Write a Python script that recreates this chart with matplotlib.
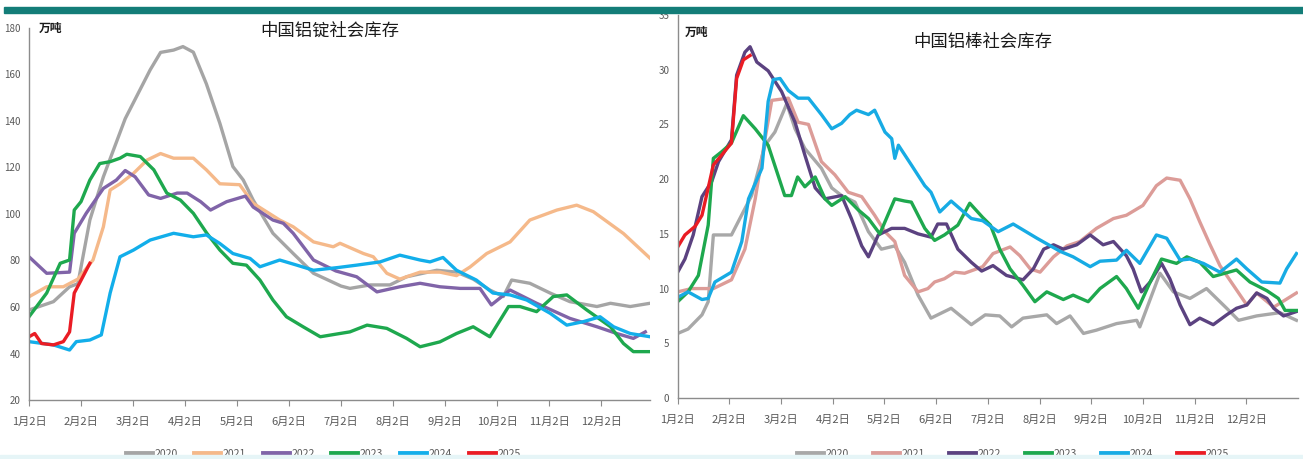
import matplotlib
matplotlib.use("Agg")
import matplotlib.pyplot as plt
from matplotlib.patches import Rectangle

plt.rcParams['font.family'] = ['Noto Sans CJK SC', 'DejaVu Sans']

month_labels = ["1月2日", "2月2日", "3月2日", "4月2日", "5月2日", "6月2日",
                "7月2日", "8月2日", "9月2日", "10月2日", "11月2日", "12月2日"]
years = ["2020", "2021", "2022", "2023", "2024", "2025"]

# x positions are in months after 1月2日
# ---- 中国铝锭社会库存 (万吨) ----
ingot_2020_m = [0, 0.47, 0.78, 0.94, 1.17, 1.43, 1.85, 2.33, 2.53, 2.78, 2.96, 3.16, 3.41, 3.67, 3.92,
                4.12, 4.31, 4.69, 5.08, 5.47, 6.0, 6.17, 6.56, 6.94, 7.26, 7.84, 8.22, 8.54, 8.86, 9.12,
                9.28, 9.63, 10.02, 10.4, 10.92, 11.18, 11.56, 11.94]
ingot_2020_v = [58.7, 62.3, 68.7, 70, 97.4, 116, 141, 162, 169.5, 170.5, 172, 169.6, 156, 139, 120.4,
                114.6, 106, 91.7, 83, 74.5, 69, 68, 69.5, 69.5, 73, 75.8, 75, 72, 67.3, 64.5,
                71.6, 70.2, 66, 62.3, 60.2, 61.6, 60.2, 61.6]
ingot_2021_m = [0, 0.34, 0.66, 0.94, 1.23, 1.43, 1.56, 1.75, 2.01, 2.27, 2.53, 2.78, 3.16, 3.41, 3.67,
                4.05, 4.31, 4.82, 5.08, 5.47, 5.85, 5.98, 6.43, 6.62, 6.88, 7.13, 7.52, 7.9, 8.22, 8.48,
                8.8, 9.25, 9.63, 10.15, 10.53, 10.85, 11.43, 11.94]
ingot_2021_v = [64.4, 68.7, 68.7, 72, 80.2, 94.5, 110.3, 113, 117.5, 123.2, 126, 124, 124, 119, 113,
                112.6, 104.6, 97.4, 94.5, 88, 85.9, 87.4, 83, 81.6, 74.5, 72, 75, 75, 73.5, 77.2,
                83, 88, 97.4, 101.7, 103.8, 101, 91.6, 81]
ingot_2022_m = [0, 0.34, 0.78, 0.87, 1.1, 1.43, 1.68, 1.85, 2.04, 2.3, 2.53, 2.85, 3.04, 3.3, 3.49,
                3.8, 4.16, 4.31, 4.69, 4.89, 5.08, 5.47, 5.9, 6.3, 6.69, 7.13, 7.52, 7.9, 8.29, 8.67,
                8.89, 9.25, 9.76, 10.4, 10.92, 11.3, 11.62, 11.85]
ingot_2022_v = [81.6, 74.5, 75, 91.7, 100.3, 111, 114.6, 118.7, 116, 108.2, 106.7, 109, 109, 105.3, 101.7,
                105.3, 107.7, 103, 97.4, 96, 91.7, 80.2, 75.5, 73, 66.5, 68.7, 70.2, 68.7, 68, 68,
                60.9, 67.3, 61.6, 55.1, 51.5, 48.6, 46.5, 49.3]
ingot_2023_m = [0, 0.34, 0.6, 0.78, 0.87, 1.0, 1.17, 1.36, 1.56, 1.75, 1.88, 2.14, 2.4, 2.65, 2.91,
                3.16, 3.42, 3.67, 3.92, 4.18, 4.44, 4.69, 4.95, 5.27, 5.6, 5.95, 6.17, 6.5, 6.88, 7.26,
                7.52, 7.9, 8.22, 8.54, 8.86, 9.22, 9.44, 9.76, 10.08, 10.34, 10.72, 11.18, 11.43, 11.62, 11.94]
ingot_2023_v = [55.8, 66, 78.8, 80.2, 101.7, 105.3, 114.6, 121.7, 122.5, 124, 125.7, 124.7, 119, 109, 106,
                100.3, 91.7, 84.5, 78.8, 78, 71.6, 63, 55.8, 51.5, 47.2, 48.5, 49.3, 52.2, 50.8, 46.5,
                42.9, 45, 48.6, 51.5, 47.2, 60.2, 60.2, 58, 64.5, 65.2, 58.8, 51.5, 44.3, 40.8, 40.8]
ingot_2024_m = [0, 0.47, 0.78, 0.91, 1.17, 1.39, 1.56, 1.75, 2.01, 2.33, 2.78, 3.16, 3.41, 3.67, 3.92,
                4.25, 4.44, 4.82, 5.15, 5.47, 5.95, 6.3, 6.75, 7.13, 7.52, 7.71, 7.96, 8.22, 8.6, 8.92,
                9.25, 9.57, 10.02, 10.34, 10.66, 10.98, 11.24, 11.56, 11.94]
ingot_2024_v = [45.1, 43.7, 41.5, 45.1, 45.8, 48, 66, 81.6, 84.5, 88.8, 91.7, 90.2, 91, 87.3, 83,
                80.9, 77.3, 80.2, 78, 75.8, 77, 78, 79.4, 82.3, 80.2, 79.4, 81.3, 75.8, 71.6, 66,
                65.2, 63, 57.3, 52.2, 53.7, 55.8, 51.5, 48.6, 47.2]
ingot_2025_m = [0, 0.11, 0.24, 0.47, 0.66, 0.78, 0.87, 0.97, 1.17]
ingot_2025_v = [47.2, 48.6, 44.3, 43.7, 45.1, 49.3, 66, 70.2, 78.8]

# ---- 中国铝棒社会库存 (万吨) ----
rod_2020_m = [0, 0.2, 0.47, 0.59, 0.69, 1.04, 1.17, 1.43, 1.69, 1.88, 2.11, 2.27, 2.46, 2.78, 2.98,
              3.17, 3.43, 3.69, 3.94, 4.2, 4.39, 4.65, 4.9, 5.29, 5.68, 5.95, 6.23, 6.46, 6.68, 7.14,
              7.33, 7.59, 7.85, 8.1, 8.49, 8.88, 8.94, 9.33, 9.59, 9.91, 10.23, 10.62, 10.85, 11.2,
              11.65, 11.97]
rod_2020_v = [5.9, 6.3, 7.6, 8.8, 14.9, 14.9, 16.1, 18.5, 23.1, 24.3, 26.9, 24.6, 22.8, 21, 19.2,
              18.5, 17.9, 15.2, 13.6, 13.9, 12.4, 9.4, 7.3, 8.2, 6.7, 7.6, 7.5, 6.5, 7.3, 7.6,
              6.8, 7.5, 5.9, 6.2, 6.8, 7.1, 6.5, 11.4, 9.7, 9.1, 10, 8.2, 7.1, 7.5, 7.8, 7.1]
rod_2021_m = [0, 0.27, 0.69, 1.04, 1.3, 1.5, 1.69, 1.82, 2.14, 2.33, 2.53, 2.78, 3.04, 3.3, 3.56,
              3.81, 4.01, 4.2, 4.39, 4.65, 4.84, 4.97, 5.16, 5.36, 5.55, 5.9, 6.1, 6.43, 6.62, 6.82,
              7.01, 7.27, 7.53, 7.78, 8.1, 8.43, 8.68, 9.0, 9.26, 9.46, 9.72, 9.91, 10.1, 10.3,
              10.49, 10.75, 11.01, 11.2, 11.53, 11.97]
rod_2021_v = [9.7, 10, 10, 10.8, 13.6, 18.2, 23.7, 27.2, 27.4, 25.2, 25, 21.6, 20.4, 18.8, 18.4,
              16.7, 15.2, 14.3, 11.2, 9.7, 10, 10.6, 10.9, 11.5, 11.4, 12, 13.2, 13.8, 13, 11.8,
              11.5, 12.9, 13.9, 14.3, 15.5, 16.4, 16.7, 17.6, 19.4, 20.1, 19.9, 18.2, 16.1, 14,
              12.1, 10.3, 8.5, 9.6, 8.3, 9.6]
rod_2022_m = [0, 0.14, 0.3, 0.47, 0.66, 0.79, 1.04, 1.14, 1.3, 1.4, 1.53, 1.75, 2.01, 2.27, 2.46,
              2.66, 2.85, 3.17, 3.36, 3.56, 3.69, 3.88, 4.14, 4.39, 4.65, 4.9, 5.03, 5.2, 5.42, 5.68,
              5.88, 6.1, 6.36, 6.68, 6.88, 7.08, 7.27, 7.46, 7.72, 7.98, 8.23, 8.43, 8.68, 8.81,
              8.97, 9.14, 9.36, 9.52, 9.72, 9.91, 10.1, 10.36, 10.62, 10.81, 11.01, 11.2, 11.4,
              11.53, 11.72, 11.97]
rod_2022_v = [11.5, 12.7, 14.9, 18.4, 19.8, 21.6, 23.6, 29.5, 31.6, 32.1, 30.7, 29.9, 28, 25.2, 22.2,
              19.2, 18.2, 18.5, 16.4, 13.9, 12.9, 14.9, 15.5, 15.5, 15, 14.7, 15.9, 15.9, 13.6, 12.4,
              11.6, 12.1, 11.2, 10.8, 11.8, 13.6, 14, 13.6, 14, 14.9, 14, 14.3, 13, 11.8,
              9.7, 10.6, 12.3, 10.9, 8.5, 6.7, 7.3, 6.7, 7.6, 8.2, 8.5, 9.6, 9.1,
              8.2, 7.5, 7.9]
rod_2023_m = [0, 0.2, 0.4, 0.59, 0.69, 0.85, 1.04, 1.27, 1.5, 1.75, 2.07, 2.2, 2.32, 2.46, 2.66,
              2.85, 2.98, 3.24, 3.49, 3.69, 3.91, 4.2, 4.39, 4.52, 4.78, 4.97, 5.16, 5.42, 5.65, 5.9,
              6.05, 6.23, 6.43, 6.68, 6.91, 7.14, 7.46, 7.65, 7.94, 8.17, 8.49, 8.68, 8.91, 9.14,
              9.36, 9.65, 9.85, 10.1, 10.36, 10.81, 11.07, 11.4, 11.62, 11.75, 11.97]
rod_2023_v = [8.8, 9.7, 11.2, 15.8, 21.9, 22.5, 23.3, 25.8, 24.6, 23.1, 18.5, 18.5, 20.2, 19.3, 20.2,
              18.2, 17.6, 18.4, 17.2, 16.4, 15, 18.2, 18, 17.9, 15.5, 14.4, 14.9, 15.8, 17.8, 16.5,
              15.8, 13.6, 11.8, 10.3, 8.8, 9.7, 9, 9.4, 8.8, 10, 11.1, 10, 8.2, 10.6,
              12.7, 12.3, 12.9, 12.4, 11.1, 11.7, 10.6, 9.8, 9.1, 8.0, 8.0]
rod_2024_m = [0, 0.2, 0.47, 0.59, 0.72, 1.04, 1.24, 1.37, 1.63, 1.75, 1.85, 1.98, 2.14, 2.33, 2.53,
              2.78, 2.98, 3.17, 3.33, 3.46, 3.69, 3.81, 4.01, 4.14, 4.2, 4.27, 4.52, 4.78, 4.9, 5.07,
              5.29, 5.68, 5.9, 6.2, 6.49, 6.95, 7.4, 7.65, 7.98, 8.17, 8.49, 8.68, 8.94, 9.26, 9.46,
              9.72, 9.91, 10.17, 10.49, 10.81, 11.01, 11.3, 11.65, 11.78, 11.97]
rod_2024_v = [9.2, 9.7, 9, 9.1, 10.6, 11.5, 14.3, 18.2, 21, 27.1, 29.1, 29.2, 28.1, 27.4, 27.4,
              25.9, 24.6, 25.1, 25.9, 26.3, 25.9, 26.3, 24.3, 23.7, 21.9, 23.1, 21.3, 19.4, 18.8, 17,
              18, 16.4, 16.2, 15.2, 15.9, 14.6, 13.4, 12.9, 12, 12.5, 12.6, 13.5, 12.3, 14.9, 14.6,
              12.6, 12.7, 12.3, 11.5, 12.7, 11.8, 10.6, 10.5, 11.8, 13.2]
rod_2025_m = [0, 0.14, 0.34, 0.47, 0.59, 0.69, 0.85, 1.04, 1.14, 1.27, 1.4]
rod_2025_v = [13.8, 14.9, 15.7, 16.7, 19.2, 21.3, 22.2, 23.3, 29.2, 30.9, 31.3]

ingot_colors = ["#a5a5a5", "#f5b98a", "#8064a8", "#1ea84e", "#12aeea", "#ea1c24"]
rod_colors = ["#a8a8a8", "#dc9c98", "#5b4280", "#1ea84e", "#17abe4", "#ea1c24"]

W, H = 1303, 459
fig = plt.figure(figsize=(W / 100, H / 100), dpi=100)

# teal band on top and pale strip at the bottom
fig.patches.append(Rectangle((4 / W, 1 - 13 / H), 1, 6 / H, transform=fig.transFigure,
                             color="#137d78", zorder=0))
fig.patches.append(Rectangle((0, 0), 1, 4 / H, transform=fig.transFigure,
                             color="#e6f5f7", zorder=0))

grey = "#595959"


def draw(rect, series, colors, ylim, ystep, xmax, title, title_xy, unit_xy, leg_x, colsp):
    ax = fig.add_axes(rect)
    for (m, v), c, y in zip(series, colors, years):
        ax.plot(m, v, color=c, lw=2.4, label=y, solid_joinstyle="round")
    ax.set_xlim(0, xmax)
    ax.set_ylim(*ylim)
    ax.set_yticks(range(ylim[0], ylim[1] + 1, ystep))
    ax.set_xticks(range(12))
    ax.set_xticklabels(month_labels)
    for s in ("top", "right"):
        ax.spines[s].set_visible(False)
    for s in ("left", "bottom"):
        ax.spines[s].set_color("#8c8c8c")
        ax.spines[s].set_linewidth(1)
    ax.tick_params(axis="y", length=0, pad=6, labelsize=7, labelcolor=grey)
    ax.tick_params(axis="x", length=4, width=0.8, color="#8c8c8c", pad=8,
                   labelsize=8, labelcolor=grey)
    fig.text(title_xy[0] / W, 1 - title_xy[1] / H, title, ha="center", va="center",
             fontsize=12.5, fontweight="medium", color="#1a1a1a")
    fig.text(unit_xy[0] / W, 1 - unit_xy[1] / H, "万吨", ha="center", va="center",
             fontsize=8.5, fontweight="bold", color="#1a1a1a")
    ax.legend(loc="center", bbox_to_anchor=(leg_x / W, 5 / H), bbox_transform=fig.transFigure,
              ncol=6, frameon=False, fontsize=7.5, labelcolor=grey, handlelength=2.5,
              handletextpad=0.25, columnspacing=colsp, borderpad=0)
    for h in ax.get_legend().get_lines():
        h.set_linewidth(3.5)
    return ax


ingot_series = [(ingot_2020_m, ingot_2020_v), (ingot_2021_m, ingot_2021_v),
                (ingot_2022_m, ingot_2022_v), (ingot_2023_m, ingot_2023_v),
                (ingot_2024_m, ingot_2024_v), (ingot_2025_m, ingot_2025_v)]
rod_series = [(rod_2020_m, rod_2020_v), (rod_2021_m, rod_2021_v),
              (rod_2022_m, rod_2022_v), (rod_2023_m, rod_2023_v),
              (rod_2024_m, rod_2024_v), (rod_2025_m, rod_2025_v)]

draw([29 / W, 59 / H, 621 / W, 372 / H], ingot_series, ingot_colors, (20, 180), 20, 11.94,
     "中国铝锭社会库存", (330, 31), (51, 28), 323, 1.6)
draw([677.7 / W, 61 / H, 620.3 / W, 383 / H], rod_series, rod_colors, (0, 35), 5, 12.0,
     "中国铝棒社会库存", (983, 42), (697, 32), 1013, 2.3)

fig.savefig("out.png", dpi=100)
